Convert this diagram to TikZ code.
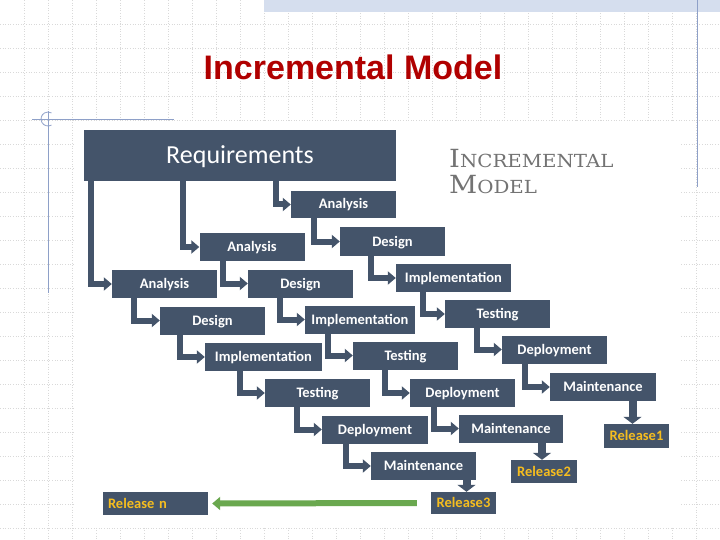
\documentclass[tikz,border=0pt]{standalone}
\usepackage{fontspec}
\setmainfont{Carlito}
\newfontfamily\titlefont{Liberation Sans}
\newfontfamily\capsfont{DejaVu Serif}
\usetikzlibrary{arrows.meta}
\definecolor{boxblue}{HTML}{44546A}
\definecolor{release}{HTML}{F5BD1F}
\definecolor{flowgreen}{HTML}{6AA84F}
\definecolor{titlered}{HTML}{B00000}
\definecolor{capgray}{HTML}{737373}
\definecolor{deco}{HTML}{8EA0C8}
\definecolor{band}{HTML}{D5DEEE}
\tikzset{
  phase/.style={fill=boxblue, text=white, font=\bfseries\fontsize{14.5}{14.5}\selectfont,
    minimum width=105pt, minimum height=28pt, inner sep=0pt, text height=9pt, text depth=0pt},
  rel/.style={phase, text=release, minimum width=65pt, minimum height=23pt},
  flow/.style={draw=boxblue, line width=6pt, -{Triangle[width=13pt,length=8pt]}},
  drop/.style={draw=boxblue, line width=8pt, -{Triangle[width=18pt,length=7pt]}},
  back/.style={draw=flowgreen, line width=6pt, -{Triangle[width=13pt,length=8pt]}},
  gridline/.style={gray!30, dotted, line width=0.6pt},
  decoline/.style={draw=deco, line width=0.8pt}
}

\begin{document}
\begin{tikzpicture}[x=1pt, y=-1pt]
  \useasboundingbox (0,0) rectangle (720,540);
  % slide background
  \foreach \x in {24,48,...,696} \draw[gridline] (\x,0) -- (\x,540);
  \foreach \y in {24,48,...,528} \draw[gridline] (0,\y) -- (720,\y);
  \fill[band] (264,0) rectangle (720,12);
  \draw[decoline] (697,0) -- (697,187);
  \draw[decoline] (32,119) -- (174,119);
  \draw[decoline] (48,111) -- (48,293);
  \draw[decoline] (48,119) ++(60:7) arc[start angle=60, end angle=300, radius=7];
  \node[font=\titlefont\bfseries\fontsize{34}{34}\selectfont, text=titlered] (title) at (353,67) {Incremental Model};
  \fill[white] (74,121) rectangle (680,527);

  % caption
  \node[anchor=base west, inner sep=0pt, text=capgray, font=\capsfont] (capa) at (449,168)
    {\scalebox{1.1}[1]{{\fontsize{25}{25}\selectfont I}{\fontsize{18}{18}\selectfont NCREMENTAL}}};
  \node[anchor=base west, inner sep=0pt, text=capgray, font=\capsfont] (capb) at (449,194)
    {\scalebox{1.1}[1]{{\fontsize{25}{25}\selectfont M}{\fontsize{18}{18}\selectfont ODEL}}};

  \node[phase, minimum width=312pt, minimum height=51pt, font=\fontsize{26}{26}\selectfont, text height=17pt] (req) at (240,155.5) {Requirements};

  % first increment
  \node[phase, minimum height=27pt] (ana1) at (343.5,204.5) {Analysis};
  \node[phase] (des1) at (392.5,241.5) {Design};
  \node[phase, minimum width=115pt] (imp1) at (453.5,278) {Implementation};
  \node[phase] (tst1) at (497.5,314) {Testing};
  \node[phase] (dep1) at (554.5,349.5) {Deployment};
  \node[phase, minimum width=106pt] (mnt1) at (603,387) {Maintenance};
  \node[rel, minimum height=24pt] (rel1) at (636.5,436) {Release1};

  % second increment
  \node[phase] (ana2) at (252,247) {Analysis};
  \node[phase] (des2) at (300.5,283.5) {Design};
  \node[phase, minimum width=110pt] (imp2) at (360,319.5) {Implementation};
  \node[phase] (tst2) at (405.5,355.5) {Testing};
  \node[phase] (dep2) at (462.5,393) {Deployment};
  \node[phase, minimum width=104pt] (mnt2) at (511,428.5) {Maintenance};
  \node[rel, minimum width=66pt] (rel2) at (544,471.5) {Release2};

  % third increment
  \node[phase] (ana3) at (164.5,284) {Analysis};
  \node[phase] (des3) at (212.5,320.5) {Design};
  \node[phase, minimum width=117pt] (imp3) at (263.5,357) {Implementation};
  \node[phase] (tst3) at (317.5,393) {Testing};
  \node[phase, minimum width=106pt] (dep3) at (375,429.5) {Deployment};
  \node[phase] (mnt3) at (423.5,466) {Maintenance};
  \node[rel, minimum height=22pt] (rel3) at (463.5,503) {Release3};
  \node[rel, minimum width=105pt, text width=95pt, align=left] (reln) at (155.5,503.5) {Release n};

  \draw[flow] ([xshift=7pt]req.south west) |- (ana3.west);
  \draw[flow] ([xshift=99pt]req.south west) |- (ana2.west);
  \draw[flow] ([xshift=192pt]req.south west) |- (ana1.west);

  \draw[flow] ([xshift=23pt]ana1.south west) |- (des1.west);
  \draw[flow] ([xshift=31pt]des1.south west) |- (imp1.west);
  \draw[flow] ([xshift=27pt]imp1.south west) |- (tst1.west);
  \draw[flow] ([xshift=32pt]tst1.south west) |- (dep1.west);
  \draw[flow] ([xshift=23pt]dep1.south west) |- (mnt1.west);

  \draw[flow] ([xshift=24pt]ana2.south west) |- (des2.west);
  \draw[flow] ([xshift=32pt]des2.south west) |- (imp2.west);
  \draw[flow] ([xshift=23pt]imp2.south west) |- (tst2.west);
  \draw[flow] ([xshift=32pt]tst2.south west) |- (dep2.west);
  \draw[flow] ([xshift=24pt]dep2.south west) |- (mnt2.west);

  \draw[flow] ([xshift=22pt]ana3.south west) |- (des3.west);
  \draw[flow] ([xshift=20pt]des3.south west) |- (imp3.west);
  \draw[flow] ([xshift=35pt]imp3.south west) |- (tst3.west);
  \draw[flow] ([xshift=32pt]tst3.south west) |- (dep3.west);
  \draw[flow] ([xshift=24pt]dep3.south west) |- (mnt3.west);

  \draw[drop] ([xshift=-4pt]rel1.north |- mnt1.south) -- ([xshift=-4pt]rel1.north);
  \draw[drop] ([xshift=-2pt]rel2.north |- mnt2.south) -- ([xshift=-2pt]rel2.north);
  \draw[drop] ([xshift=3pt]rel3.north |- mnt3.south) -- ([xshift=3pt]rel3.north);

  \draw[back] ([xshift=-14pt]rel3.west) -- ([xshift=4pt]reln.east);
\end{tikzpicture}
\end{document}
